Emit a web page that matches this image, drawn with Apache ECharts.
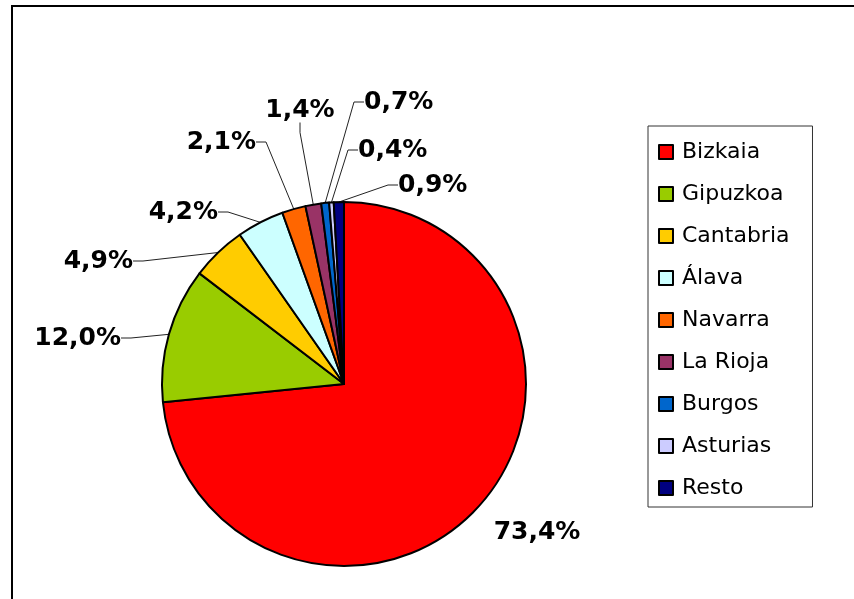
<!DOCTYPE html>
<html>
<head>
<meta charset="utf-8">
<script src="https://cdn.jsdelivr.net/npm/echarts@6/dist/echarts.min.js"></script>
<style>
  html, body { margin: 0; padding: 0; background: #fff; }
  #chart { width: 854px; height: 599px; }
</style>
</head>
<body>
<div id="chart"></div>
<script>
// 地区
var regions = ['Bizkaia', 'Gipuzkoa', 'Cantabria', 'Álava', 'Navarra', 'La Rioja', 'Burgos', 'Asturias', 'Resto'];
// 占比 (%)
var shares = [73.4, 12.0, 4.9, 4.2, 2.1, 1.4, 0.7, 0.4, 0.9];
// 扇区颜色
var colors = ['#FF0000', '#99CC00', '#FFCC00', '#CCFFFF', '#FF6600', '#993366', '#0066CC', '#CCCCFF', '#000080'];

// 标签位置 [x, y, 对齐]
var labelPos = [
  [537, 532, 'center'],
  [121, 338, 'right'],
  [133, 261, 'right'],
  [218, 212, 'right'],
  [256, 142, 'right'],
  [300, 110, 'center'],
  [364, 102, 'left'],
  [358, 150, 'left'],
  [398, 185, 'left']
];

var myChart = echarts.init(document.getElementById('chart'));

var pieData = regions.map(function (name, i) {
  var item = { name: name, value: shares[i], itemStyle: { color: colors[i] } };
  // 最大的扇区没有引导线
  if (i === 0) item.labelLine = { show: false };
  return item;
});

var option = {
  animation: false,
  backgroundColor: '#fff',
  // 外边框
  graphic: [{
    type: 'rect',
    shape: { x: 12, y: 6, width: 900, height: 700 },
    style: { fill: 'none', stroke: '#000', lineWidth: 2 },
    silent: true
  }],
  legend: {
    orient: 'vertical',
    left: 648,
    top: 126,
    padding: [15, 23, 8, 10],
    borderColor: '#333',
    borderWidth: 1,
    icon: 'rect',
    itemWidth: 14,
    itemHeight: 14,
    itemGap: 20,
    selectedMode: false,
    data: regions,
    textStyle: {
      fontFamily: 'DejaVu Sans',
      fontSize: 22,
      lineHeight: 22,
      color: '#000',
      padding: [0, 0, 0, 4]
    }
  },
  series: [{
    type: 'pie',
    center: [344, 384],
    radius: 182,
    startAngle: 90,
    clockwise: true,
    avoidLabelOverlap: false,
    emphasis: { disabled: true },
    itemStyle: { borderColor: '#000', borderWidth: 2 },
    label: {
      show: true,
      position: 'outside',
      fontFamily: 'DejaVu Sans',
      fontWeight: 'bold',
      fontSize: 25,
      color: '#000',
      formatter: function (p) {
        return p.value.toFixed(1).replace('.', ',') + '%';
      }
    },
    labelLine: {
      show: true,
      length: 10,
      length2: 10,
      lineStyle: { color: '#222', width: 1 }
    },
    labelLayout: function (p) {
      var pos = labelPos[p.dataIndex];
      return { x: pos[0], y: pos[1], align: pos[2], verticalAlign: 'middle' };
    },
    data: pieData
  }]
};

myChart.setOption(option);
</script>
</body>
</html>
